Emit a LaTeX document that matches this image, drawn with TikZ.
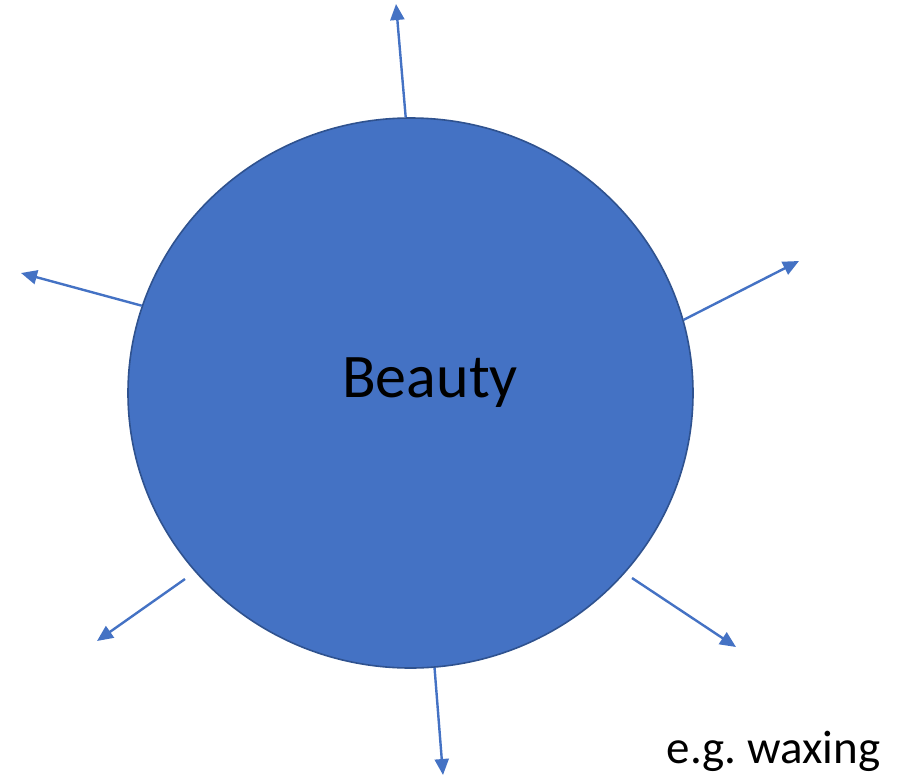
\documentclass[tikz,border=0pt]{standalone}
\usepackage{fontspec}
\setmainfont{Carlito}
\usetikzlibrary{shapes.geometric,arrows.meta}
\definecolor{fillblue}{HTML}{4472C4}
\definecolor{edgeblue}{HTML}{2F528F}
\tikzset{
  ball/.style={ellipse, draw=edgeblue, fill=fillblue, line width=1.6pt, minimum width=565pt, minimum height=550pt, inner sep=0pt},
  ray/.style={draw=fillblue, line width=2.4pt, -{Triangle[length=16pt,width=14pt]}},
  lbl/.style={inner sep=0pt, anchor=base}
}
\begin{document}
\frenchspacing
\begin{tikzpicture}[x=1pt,y=-1pt]
\useasboundingbox (0,0) rectangle (910,777);
\node[ball] (c) at (410.5,393) {};
\node[lbl, font=\fontsize{62}{70}\selectfont] (t) at (430,397) {Beauty};
\node[lbl, font=\fontsize{47}{54}\selectfont] (w) at (773.5,763) {e.g. waxing};
\coordinate (p1) at (396,4);
\coordinate (p2) at (799,261);
\coordinate (p3) at (21,273);
\coordinate (p4) at (97,641);
\coordinate (p5) at (736,647);
\coordinate (p6) at (443,775);
\coordinate (s4) at (185,579);
\coordinate (s5) at (632,578);
\draw[ray] (c.91) -- (p1);
\draw[ray] (c.15.8) -- (p2);
\draw[ray] (c.162.8) -- (p3);
\draw[ray] (s4) -- (p4);
\draw[ray] (s5) -- (p5);
\draw[ray] (c.275.6) -- (p6);
\end{tikzpicture}
\end{document}
